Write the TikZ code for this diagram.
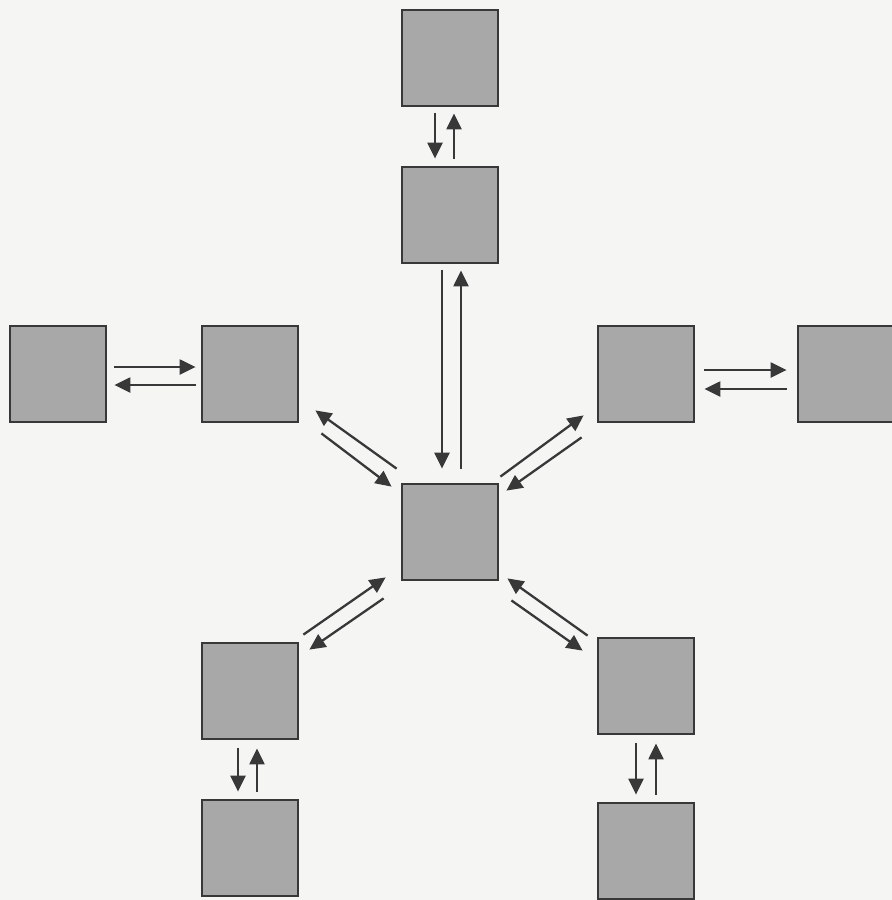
\documentclass[tikz,border=0pt]{standalone}
\usepackage{tikz}
\usetikzlibrary{arrows.meta}

\definecolor{boxgray}{HTML}{A8A8A8}
\definecolor{edgegray}{HTML}{383838}
\definecolor{paper}{HTML}{F5F5F3}

\tikzset{
    box/.style={draw=edgegray, fill=boxgray, line width=1.6pt, minimum size=1.92cm, inner sep=0pt},
    arr/.style={draw=edgegray, line width=1.3pt, -{Triangle[length=0.32cm,width=0.3cm]}}
}

\begin{document}
\begin{tikzpicture}[x=0.02cm, y=-0.02cm]
            \fill[paper] (0,0) rectangle (892,900);
            \useasboundingbox (0,0) rectangle (892,900);

            \node[box] (top) at (450,58) {};
            \node[box] (up) at (450,215) {};
            \node[box] (ctr) at (450,532) {};
            \node[box] (lin) at (250,374) {};
            \node[box] (lout) at (58,374) {};
            \node[box] (rin) at (646,374) {};
            \node[box] (rout) at (846,374) {};
            \node[box] (bl) at (250,691) {};
            \node[box] (bll) at (250,848) {};
            \node[box] (br) at (646,686) {};
            \node[box] (brl) at (646,851) {};

            \draw[arr] ([shift={(-15,6)}]top.south) -- ([shift={(-15,-7)}]up.north);
            \draw[arr] ([shift={(4,-7)}]up.north) -- ([shift={(4,6)}]top.south);

            \draw[arr] ([shift={(-8,6)}]up.south) -- ([shift={(-8,-14)}]ctr.north);
            \draw[arr] ([shift={(11,-14)}]ctr.north) -- ([shift={(11,6)}]up.south);

            \draw[arr] ([shift={(7,-7)}]lout.east) -- ([shift={(-5,-7)}]lin.west);
            \draw[arr] ([shift={(-5,11)}]lin.west) -- ([shift={(7,11)}]lout.east);

            \draw[arr] ([shift={(9,-4)}]rin.east) -- ([shift={(-10,-4)}]rout.west);
            \draw[arr] ([shift={(-10,15)}]rout.west) -- ([shift={(9,15)}]rin.east);

            \draw[arr] ([shift={(-12,8)}]bl.south) -- ([shift={(-12,-7)}]bll.north);
            \draw[arr] ([shift={(7,-7)}]bll.north) -- ([shift={(7,8)}]bl.south);

            \draw[arr] ([shift={(-10,8)}]br.south) -- ([shift={(-10,-7)}]brl.north);
            \draw[arr] ([shift={(10,-7)}]brl.north) -- ([shift={(10,8)}]br.south);

            \draw[arr] ([shift={(-4,-14)}]ctr.north west) -- ([shift={(16,-13)}]lin.south east);
            \draw[arr] ([shift={(22,10)}]lin.south east) -- ([shift={(-9,4)}]ctr.north west);

            \draw[arr] ([shift={(1,-6)}]ctr.north east) -- ([shift={(-13,-8)}]rin.south west);
            \draw[arr] ([shift={(-15,14)}]rin.south west) -- ([shift={(7,8)}]ctr.north east);

            \draw[arr] ([shift={(4,-7)}]bl.north east) -- ([shift={(-15,-4)}]ctr.south west);
            \draw[arr] ([shift={(-17,17)}]ctr.south west) -- ([shift={(10,8)}]bl.north east);

            \draw[arr] ([shift={(-9,-1)}]br.north west) -- ([shift={(8,-3)}]ctr.south east);
            \draw[arr] ([shift={(12,19)}]ctr.south east) -- ([shift={(-14,14)}]br.north west);
        \end{tikzpicture}
\end{document}
